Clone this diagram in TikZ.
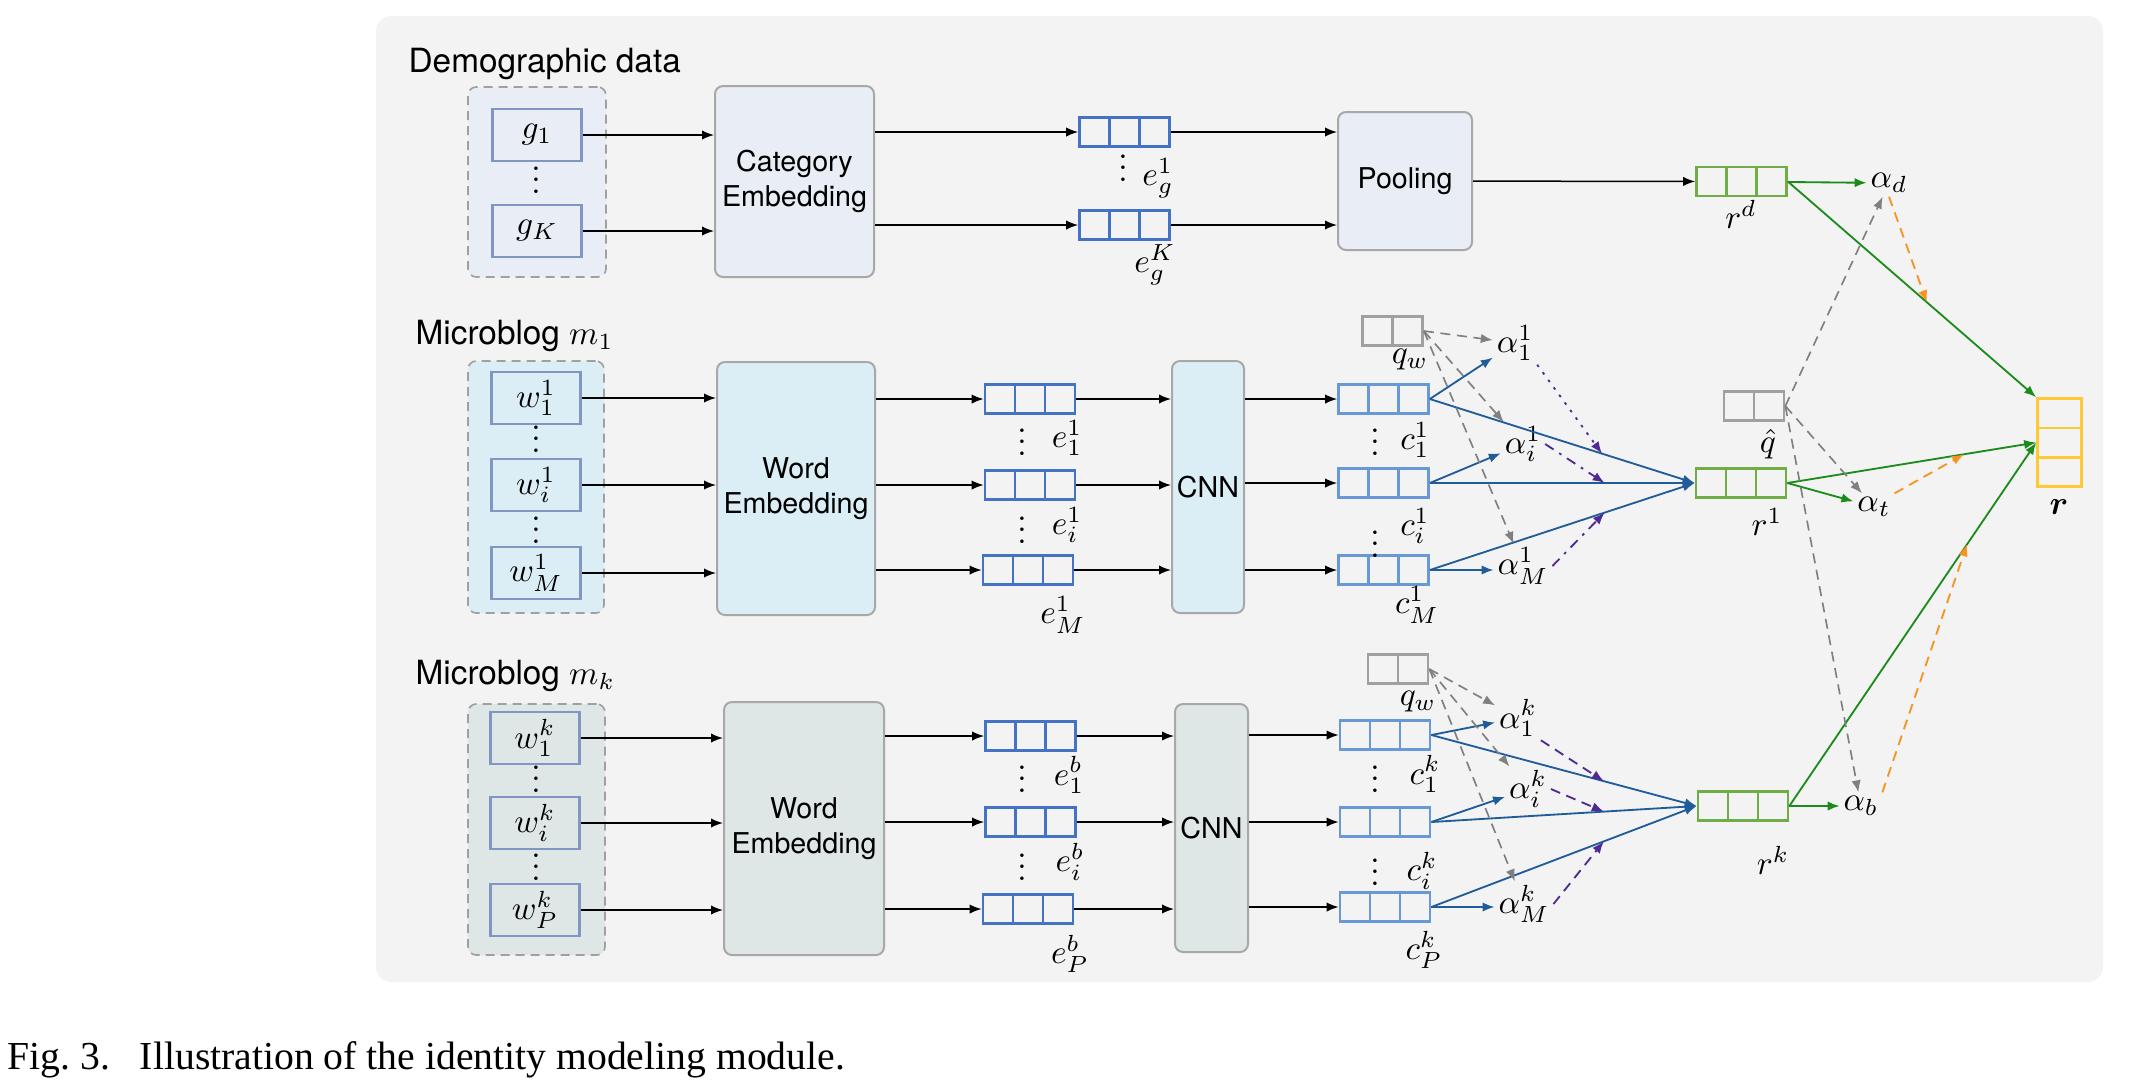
\documentclass[tikz,border=0pt]{standalone}
\usepackage{amsmath}
\usepackage[no-math]{fontspec}
\setsansfont{TeX Gyre Heros}
\newfontfamily\capfont{Liberation Serif}
\usetikzlibrary{arrows.meta,calc}
\definecolor{bggray}{HTML}{F3F3F3}
\definecolor{demofill}{HTML}{E9EDF5}
\definecolor{mfill}{HTML}{DCEEF5}
\definecolor{kfill}{HTML}{DFE6E6}
\definecolor{boxline}{HTML}{A8A8A8}
\definecolor{inline}{HTML}{8196C3}
\definecolor{ecol}{HTML}{4472C4}
\definecolor{ccol}{HTML}{6898D6}
\definecolor{qcol}{HTML}{A0A0A0}
\definecolor{rcol}{HTML}{70AD47}
\definecolor{outcol}{HTML}{FFC935}
\definecolor{attblue}{HTML}{1F5C99}
\definecolor{attgreen}{HTML}{1B8C1B}
\definecolor{attpurple}{HTML}{4F2A95}
\definecolor{attorange}{HTML}{F7931E}
\newcommand{\boxfont}{\sffamily\fontsize{8.6}{10.4}\selectfont}
\newcommand{\titlefont}{\sffamily\fontsize{10}{12}\selectfont}
\newcommand{\labfont}{\fontsize{10}{11.5}\selectfont}
\newcommand{\vdotsm}{\vbox{\baselineskip=3.4pt \lineskiplimit=0pt \hbox{.}\hbox{.}\hbox{.}}}

\tikzset{
  arr/.style={-{Latex[length=3.6pt,width=2.8pt]}, line width=0.45pt},
  barr/.style={arr, attblue, line width=0.55pt},
  garr/.style={arr, attgreen, line width=0.55pt},
  qarr/.style={arr, gray, line width=0.5pt, dash pattern=on 3pt off 2pt},
  parr/.style={arr, attpurple, line width=0.55pt},
  oarr/.style={arr, attorange, line width=0.55pt, dash pattern=on 3pt off 2pt},
  grp/.style={draw=qcol, line width=0.5pt, dash pattern=on 2.7pt off 1.8pt, rounded corners=2.5pt},
  inbox/.style={draw=inline, line width=0.8pt, minimum width=26.7pt, minimum height=15.6pt, inner sep=0pt, font=\labfont},
  layerbox/.style={draw=boxline, line width=0.6pt, rounded corners=2.4pt, align=center, inner sep=0pt, font=\boxfont},
  titletext/.style={anchor=base west, inner sep=0pt, font=\titlefont},
  lab/.style={inner sep=1pt, font=\labfont},
  vd/.style={inner sep=0pt, anchor=base, font=\labfont},
  vec/.style 2 args={draw=#1, line width=0.8pt, minimum width=#2*9pt, minimum height=8.7pt, inner sep=0pt,
    path picture={\foreach \k in {1,...,#2}
      \draw[#1, line width=0.8pt] ($(path picture bounding box.south west)!\k/#2!(path picture bounding box.south east)$)
        -- ($(path picture bounding box.north west)!\k/#2!(path picture bounding box.north east)$);}},
  vvec/.style={draw=outcol, line width=0.8pt, minimum width=13.2pt, minimum height=26.4pt, inner sep=0pt,
    path picture={\foreach \k in {1,2}
      \draw[outcol, line width=0.8pt] ($(path picture bounding box.north west)!\k/3!(path picture bounding box.south west)$)
        -- ($(path picture bounding box.north east)!\k/3!(path picture bounding box.south east)$);}}
}

\begin{document}
\begin{tikzpicture}[x=0.3pt, y=-0.3pt]
  \useasboundingbox (0,0) rectangle (2132,1087);
  \fill[bggray, rounded corners=4.5pt] (376,16) rectangle (2103,982);

  % demographic data
  \node[titletext] (tdemo) at (408,72) {Demographic data};
  \node[grp, fill=demofill, minimum width=41.4pt, minimum height=57pt] (gdemo) at (537,182) {};
  \node[inbox] (g1) at (537,135) {$g_1$};
  \node[inbox] (gK) at (537,231) {$g_K$};
  \node[vd] at (536,193) {\vdotsm};
  \node[layerbox, fill=demofill, minimum width=47.7pt, minimum height=57.3pt] (catemb) at (794.5,181.5) {Category\\Embedding};
  \node[vec={ecol}{3}] (eg1) at (1124.5,132) {};
  \node[vec={ecol}{3}] (egK) at (1124.5,225) {};
  \node[lab] (leg1) at (1158,178) {$e_g^1$};
  \node[vd] at (1123,181) {\vdotsm};
  \node[lab] (legK) at (1155,265) {$e_g^K$};
  \node[layerbox, fill=demofill, minimum width=40.2pt, minimum height=41.4pt] (pool) at (1405,181) {Pooling};
  \node[vec={rcol}{3}] (rd) at (1741.5,181.5) {};
  \node[lab] (lrd) at (1741,214) {$r^d$};
  \node[lab] (ad) at (1889,183) {$\alpha_d$};

  \draw[arr] (g1) -- (g1 -| catemb.west);
  \draw[arr] (gK) -- (gK -| catemb.west);
  \draw[arr] (catemb.east |- eg1) -- (eg1);
  \draw[arr] (catemb.east |- egK) -- (egK);
  \draw[arr] (eg1) -- (eg1 -| pool.west);
  \draw[arr] (egK) -- (egK -| pool.west);
  \draw[arr] (pool) -- (rd);

  % microblog m_1
  \node[titletext] (tm1) at (415,344) {Microblog $m_1$};
  \node[grp, fill=mfill, minimum width=40.8pt, minimum height=75.6pt] (wgrp1) at (536,487) {};
  \node[inbox] (w11) at (536,398) {$w_1^1$};
  \node[inbox] (wi1) at (536,485) {$w_i^1$};
  \node[inbox] (wM1) at (536,573) {$w_M^1$};
  \node[vd] at (536,452) {\vdotsm};
  \node[vd] at (536,543) {\vdotsm};
  \node[layerbox, fill=mfill, minimum width=47.4pt, minimum height=75.9pt] (wemb1) at (796,488.5) {Word\\Embedding};
  \node[vec={ecol}{3}] (e11) at (1030,399) {};
  \node[vec={ecol}{3}] (ei1) at (1030,485) {};
  \node[vec={ecol}{3}] (eM1) at (1028,570) {};
  \node[lab] (le11) at (1067,438) {$e_1^1$};
  \node[lab] (lei1) at (1067,525) {$e_i^1$};
  \node[lab] (leM1) at (1063,615) {$e_M^1$};
  \node[vd] at (1022,455) {\vdotsm};
  \node[vd] at (1022,543) {\vdotsm};
  \node[layerbox, fill=mfill, minimum width=21.6pt, minimum height=75.6pt] (cnn1) at (1208,487) {CNN};
  \node[vec={ccol}{3}] (c11) at (1383.5,399) {};
  \node[vec={ccol}{3}] (ci1) at (1383.5,483) {};
  \node[vec={ccol}{3}] (cM1) at (1383.5,570) {};
  \node[lab] (lc11) at (1415,440) {$c_1^1$};
  \node[lab] (lci1) at (1415,526) {$c_i^1$};
  \node[lab] (lcM1) at (1417,605) {$c_M^1$};
  \node[vd] at (1375,455) {\vdotsm};
  \node[vd] at (1375,557) {\vdotsm};
  \node[vec={qcol}{2}] (qw1) at (1392.5,331) {};
  \node[lab] (lqw1) at (1410,360) {$q_w$};
  \node[lab] (a11) at (1515,343) {$\alpha_1^1$};
  \node[lab] (ai1) at (1523,444) {$\alpha_i^1$};
  \node[lab] (aM1) at (1523,566) {$\alpha_M^1$};
  \node[vec={rcol}{3}] (r1) at (1741,483) {};
  \node[lab] (lr1) at (1767,522) {$r^1$};

  \foreach \w in {w11,wi1,wM1}
    \draw[arr] (\w) -- (\w -| wemb1.west);
  \foreach \e in {e11,ei1,eM1}{
    \draw[arr] (wemb1.east |- \e) -- (\e);
    \draw[arr] (\e) -- (\e -| cnn1.west);
  }
  \foreach \c in {c11,ci1,cM1}{
    \draw[arr] (cnn1.east |- \c) -- (\c);
    \draw[barr] (\c.east) -- (r1.west);
  }
  \draw[barr] (c11.east) -- (a11);
  \draw[barr] (ci1.east) -- (ai1);
  \draw[barr] (cM1.east) -- (cM1.east -| aM1.west);
  \foreach \a in {a11,ai1,aM1}
    \draw[qarr] (qw1.east) -- (\a);
  \coordinate (p11) at ($(c11.east)!0.65!(r1.west)$);
  \coordinate (pi1) at ($(ci1.east)!0.66!(r1.west)$);
  \coordinate (pM1) at ($(cM1.east)!0.66!(r1.west)$);
  \draw[parr, dash pattern=on 0.8pt off 2pt] (a11.south east) -- (p11);
  \draw[parr, dash pattern=on 3pt off 2pt on 0.8pt off 2pt] (ai1.east) -- (pi1);
  \draw[parr, dash pattern=on 3pt off 2pt on 0.8pt off 2pt] (aM1.east) -- (pM1);

  % microblog m_k
  \node[titletext] (tmk) at (415,684) {Microblog $m_k$};
  \node[grp, fill=kfill, minimum width=41.1pt, minimum height=75.3pt] (wgrpk) at (536.5,829.5) {};
  \node[inbox] (w1k) at (535,738) {$w_1^k$};
  \node[inbox] (wik) at (535,823) {$w_i^k$};
  \node[inbox] (wPk) at (535,910) {$w_P^k$};
  \node[vd] at (536,792) {\vdotsm};
  \node[vd] at (536,880) {\vdotsm};
  \node[layerbox, fill=kfill, minimum width=48pt, minimum height=75.9pt] (wembk) at (804,828.5) {Word\\Embedding};
  \node[vec={ecol}{3}] (e1b) at (1030.5,736) {};
  \node[vec={ecol}{3}] (eib) at (1030.5,822) {};
  \node[vec={ecol}{3}] (ePb) at (1028,909) {};
  \node[lab] (le1b) at (1069,775) {$e_1^b$};
  \node[lab] (leib) at (1070,862) {$e_i^b$};
  \node[lab] (lePb) at (1070,954) {$e_P^b$};
  \node[vd] at (1022,792) {\vdotsm};
  \node[vd] at (1022,880) {\vdotsm};
  \node[layerbox, fill=kfill, minimum width=21.9pt, minimum height=74.4pt] (cnnk) at (1211.5,828) {CNN};
  \node[vec={ccol}{3}] (c1k) at (1385,735) {};
  \node[vec={ccol}{3}] (cik) at (1385,822) {};
  \node[vec={ccol}{3}] (cPk) at (1385,907) {};
  \node[lab] (lc1k) at (1425,774) {$c_1^k$};
  \node[lab] (lcik) at (1422,871) {$c_i^k$};
  \node[lab] (lcPk) at (1424,950) {$c_P^k$};
  \node[vd] at (1375,792) {\vdotsm};
  \node[vd] at (1375,885) {\vdotsm};
  \node[vec={qcol}{2}] (qwk) at (1398,669) {};
  \node[lab] (lqwk) at (1418,702) {$q_w$};
  \node[lab] (a1k) at (1518,718) {$\alpha_1^k$};
  \node[lab] (aik) at (1528,789) {$\alpha_i^k$};
  \node[lab] (aMk) at (1524,904) {$\alpha_M^k$};
  \node[vec={rcol}{3}] (rk) at (1743,806) {};
  \node[lab] (lrk) at (1773,860) {$r^k$};

  \foreach \w in {w1k,wik,wPk}
    \draw[arr] (\w) -- (\w -| wembk.west);
  \foreach \e in {e1b,eib,ePb}{
    \draw[arr] (wembk.east |- \e) -- (\e);
    \draw[arr] (\e) -- (\e -| cnnk.west);
  }
  \foreach \c in {c1k,cik,cPk}{
    \draw[arr] (cnnk.east |- \c) -- (\c);
    \draw[barr] (\c.east) -- (rk.west);
  }
  \draw[barr] (c1k.east) -- (a1k);
  \draw[barr] (cik.east) -- (aik);
  \draw[barr] (cPk.east) -- (cPk.east -| aMk.west);
  \foreach \a in {a1k,aik,aMk}
    \draw[qarr] (qwk.east) -- (\a);
  \coordinate (p1k) at ($(c1k.east)!0.65!(rk.west)$);
  \coordinate (pik) at ($(cik.east)!0.65!(rk.west)$);
  \coordinate (pPk) at ($(cPk.east)!0.65!(rk.west)$);
  \draw[parr, dash pattern=on 3pt off 2pt] (a1k.south east) -- (p1k);
  \draw[parr, dash pattern=on 3pt off 2pt] (aik.east) -- (pik);
  \draw[parr, dash pattern=on 3pt off 2pt] (aMk.east) -- (pPk);

  % identity representation
  \node[vec={qcol}{2}] (qh) at (1754,406) {};
  \node[lab] (lqh) at (1768,444) {$\hat{q}$};
  \node[lab] (at) at (1874,507) {$\alpha_t$};
  \node[lab] (ab) at (1861,806) {$\alpha_b$};
  \node[vvec] (r) at (2059.5,442.5) {};
  \node[lab] (lr) at (2059,507) {$\boldsymbol{r}$};

  \draw[garr] (rd) -- (ad);
  \draw[garr] (r1.east) -- (at);
  \draw[garr] (rk.east) -- (ab);
  \draw[garr] (rd.east) -- (r.north west);
  \draw[garr] (r1.east) -- (r.west);
  \draw[garr] (rk.east) -- (r.west);
  \foreach \a in {ad,at,ab}
    \draw[qarr] (qh.east) -- (\a);
  \coordinate (od) at ($(rd.east)!0.56!(r.north west)$);
  \coordinate (ot) at ($(r1.east)!0.71!(r.west)$);
  \coordinate (ob) at ($(rk.east)!0.72!(r.west)$);
  \draw[oarr] (ad.south) -- (od);
  \draw[oarr] (at.north east) -- (ot);
  \draw[oarr] (ab.north east) -- (ob);

  \node[anchor=base west, inner sep=0pt, font=\capfont\fontsize{11.9}{13.5}\selectfont] (cap) at (7,1069)
    {Fig.~3.\hspace{0.75em}Illustration of the identity modeling module.};
\end{tikzpicture}
\end{document}
